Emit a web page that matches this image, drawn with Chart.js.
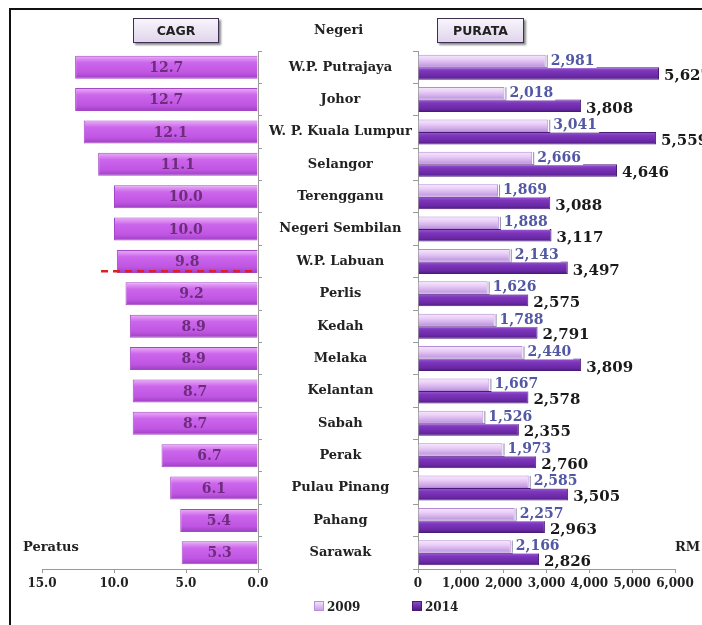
<!DOCTYPE html>
<html>
<head>
<meta charset="utf-8">
<script src="https://cdn.jsdelivr.net/npm/chart.js@4/dist/chart.umd.min.js"></script>
<style>
  html, body { margin: 0; padding: 0; background: #fff; overflow: hidden; }
  #wrap { position: relative; width: 702px; height: 625px; overflow: hidden; }
  #frameTop { position: absolute; left: 9px; top: 8px; width: 693px; height: 2px; background: #111; }
  #frameLeft { position: absolute; left: 9px; top: 8px; width: 2px; height: 617px; background: #111; }
  #left { position: absolute; left: 0; top: 0; }
  #right { position: absolute; left: 400px; top: 0; }
  .tag { position: absolute; height: 25px; display: flex; align-items: center; justify-content: center;
    font: bold 12.5px "DejaVu Sans", sans-serif; color: #222;
    border: 1.5px solid #3e3050; background: linear-gradient(#f8f4fb, #e0d5ec);
    box-shadow: 2px 2px 2px #8a8a8a; box-sizing: border-box; }
  .txt { position: absolute; font: bold 13px "DejaVu Serif", serif; color: #222; white-space: nowrap; }
  .mark { display: inline-block; width: 8px; height: 8px; margin-right: 3px; vertical-align: 0; }
</style>
</head>
<body>
<div id="wrap">
  <div id="frameTop"></div>
  <div id="frameLeft"></div>
  <canvas id="left" width="418" height="625"></canvas>
  <canvas id="right" width="302" height="625"></canvas>
  <div class="tag" style="left:133px; top:18px; width:86px;">CAGR</div>
  <div class="tag" style="left:437px; top:18px; width:87px;">PURATA</div>
  <div class="txt" style="left:314px; top:22px;">Negeri</div>
  <div class="txt" style="left:23px; top:539px;">Peratus</div>
  <div class="txt" style="left:675px; top:539px;">RM</div>
  <div class="txt" style="left:314px; top:600px; font-size:12px;"><span class="mark" style="background:linear-gradient(#f4e0fb,#c9a0e6); border:1px solid #b890d8;"></span>2009</div>
  <div class="txt" style="left:412px; top:600px; font-size:12px;"><span class="mark" style="background:linear-gradient(#8c48c8,#4e1a80); border:1px solid #4a1a78;"></span>2014</div>
</div>
<script>
const states = [
  "W.P. Putrajaya", "Johor", "W. P. Kuala Lumpur", "Selangor", "Terengganu",
  "Negeri Sembilan", "W.P. Labuan", "Perlis", "Kedah", "Melaka",
  "Kelantan", "Sabah", "Perak", "Pulau Pinang", "Pahang", "Sarawak"
]
const cagr = [12.7, 12.7, 12.1, 11.1, 10.0, 10.0, 9.8, 9.2, 8.9, 8.9, 8.7, 8.7, 6.7, 6.1, 5.4, 5.3]
const purata2009 = [2981, 2018, 3041, 2666, 1869, 1888, 2143, 1626, 1788, 2440, 1667, 1526, 1973, 2585, 2257, 2166]
const purata2014 = [5627, 3808, 5559, 4646, 3088, 3117, 3497, 2575, 2791, 3809, 2578, 2355, 2760, 3505, 2963, 2826]
const cagrTicks = [0, 5, 10, 15]
const purataTicks = [0, 1000, 2000, 3000, 4000, 5000, 6000]

const serif = "'DejaVu Serif', serif"
const axisGrey = "#9a9a9a"
const TOP = 51, PLOT_BOTTOM = 569, H = 625

// vertical gradient for one bar, from its band position on the category scale
function bandGradient(ctx, fromFrac, toFrac, stops, fallback) {
  if (ctx.type !== "data") return fallback
  const chart = ctx.chart
  const y = chart.scales.y
  if (!y || y.bottom === undefined) return fallback
  const band = (y.bottom - y.top) / y.ticks.length
  const c = y.getPixelForValue(ctx.dataIndex)
  const y0 = c + band * fromFrac, y1 = c + band * toFrac
  if (!isFinite(y0) || !isFinite(y1) || y0 === y1) return fallback
  const g = chart.ctx.createLinearGradient(0, y0, 0, y1)
  stops.forEach(([p, col]) => g.addColorStop(p, col))
  return g
}

function fixedWidth(w) { return (scale) => { scale.width = w } }
function fixedHeight(h) { return (scale) => { scale.height = h } }

// ---- left: CAGR ----
const cagrLabels = {
  id: "cagrLabels",
  afterDatasetsDraw(chart) {
    const { ctx } = chart
    ctx.save()
    ctx.font = "bold 14px " + serif
    ctx.fillStyle = "#6e2c7c"
    ctx.textAlign = "center"
    ctx.textBaseline = "middle"
    chart.getDatasetMeta(0).data.forEach((bar, i) => {
      ctx.fillText(cagr[i].toFixed(1), (bar.x + bar.base) / 2, bar.y + 1)
    })
    // red dashed marker under W.P. Labuan
    const x = chart.scales.x, y = chart.scales.y
    const band = (y.bottom - y.top) / states.length
    const yy = y.getPixelForValue(states.indexOf("W.P. Labuan")) + band * 0.3
    ctx.strokeStyle = "#e0201c"
    ctx.lineWidth = 2.5
    ctx.setLineDash([7, 5])
    ctx.beginPath()
    ctx.moveTo(x.getPixelForValue(10.9), yy)
    ctx.lineTo(x.getPixelForValue(0.4), yy)
    ctx.stroke()
    ctx.restore()
  }
}

new Chart(document.getElementById("left"), {
  type: "bar",
  data: {
    labels: states,
    datasets: [{
      label: "CAGR",
      data: cagr,
      backgroundColor: (ctx) => bandGradient(ctx, -0.355, 0.355,
        [[0, "#eab0f6"], [0.3, "#cc66ec"], [0.75, "#bf55e2"], [1, "#9c3fc0"]], "#c55ee8"),
      borderColor: "#a548c8",
      borderWidth: 1,
      barPercentage: 0.71,
      categoryPercentage: 1,
    }],
  },
  options: {
    indexAxis: "y",
    responsive: false,
    animation: false,
    layout: { padding: { top: TOP, left: 42, right: 0, bottom: H - PLOT_BOTTOM - 30 } },
    plugins: { legend: { display: false }, tooltip: { enabled: false } },
    scales: {
      x: {
        reverse: true, min: 0, max: 15,
        afterBuildTicks: (s) => { s.ticks = cagrTicks.map((v) => ({ value: v })) },
        afterFit: fixedHeight(30),
        ticks: { color: "#222", font: { family: serif, size: 12, weight: "bold" },
          callback: (v) => Number(v).toFixed(1), maxRotation: 0, autoSkip: false, padding: 4 },
        grid: { drawOnChartArea: false, color: axisGrey, tickLength: 4 },
        border: { color: axisGrey },
      },
      y: {
        position: "right",
        afterFit: fixedWidth(160),
        ticks: { color: "#222", font: { family: serif, size: 13, weight: "bold" },
          crossAlign: "center", padding: 7, autoSkip: false },
        grid: { drawOnChartArea: false, offset: true, color: axisGrey, tickLength: 4 },
        border: { color: axisGrey },
      },
    },
  },
  plugins: [cagrLabels],
})

// ---- right: PURATA ----
const fmt = (v) => v.toLocaleString("en-US")

const purataLabels = {
  id: "purataLabels",
  afterDatasetsDraw(chart) {
    const { ctx } = chart
    ctx.save()
    ctx.textBaseline = "middle"
    ctx.textAlign = "left"
    chart.getDatasetMeta(0).data.forEach((bar, i) => {
      const t = fmt(purata2009[i])
      ctx.font = "bold 14px " + serif
      const w = ctx.measureText(t).width
      ctx.fillStyle = "#fff"
      ctx.fillRect(bar.x + 2, bar.y - 7, w + 5, 14)
      ctx.strokeStyle = "#8a8aa8"
      ctx.lineWidth = 1
      ctx.beginPath()
      ctx.moveTo(bar.x + 1.5, bar.y - 6)
      ctx.lineTo(bar.x + 1.5, bar.y + 6)
      ctx.stroke()
      ctx.fillStyle = "#5258a4"
      ctx.fillText(t, bar.x + 5, bar.y)
    })
    chart.getDatasetMeta(1).data.forEach((bar, i) => {
      ctx.font = "bold 15px " + serif
      ctx.fillStyle = "#1a1a1a"
      ctx.fillText(fmt(purata2014[i]), bar.x + 5, bar.y + 3)
    })
    ctx.restore()
  }
}

new Chart(document.getElementById("right"), {
  type: "bar",
  data: {
    labels: states,
    datasets: [
      {
        label: "2009",
        data: purata2009,
        backgroundColor: (ctx) => bandGradient(ctx, -0.385, 0,
          [[0, "#f8e8fc"], [0.35, "#ead0f8"], [0.7, "#d2aeea"], [1, "#b98fdc"]], "#e2c4f4"),
        borderColor: "#b58cd6",
        borderWidth: 1,
        barPercentage: 1,
        categoryPercentage: 0.77,
      },
      {
        label: "2014",
        data: purata2014,
        backgroundColor: (ctx) => bandGradient(ctx, 0, 0.385,
          [[0, "#9d5cd2"], [0.3, "#7c36bc"], [0.75, "#6a28a4"], [1, "#4c1a80"]], "#7030b0"),
        borderColor: "#4a1a78",
        borderWidth: 1,
        barPercentage: 1,
        categoryPercentage: 0.77,
      },
    ],
  },
  options: {
    indexAxis: "y",
    responsive: false,
    animation: false,
    layout: { padding: { top: TOP, left: 0, right: 27, bottom: H - PLOT_BOTTOM - 30 } },
    plugins: { legend: { display: false }, tooltip: { enabled: false } },
    scales: {
      x: {
        min: 0, max: 6000,
        afterBuildTicks: (s) => { s.ticks = purataTicks.map((v) => ({ value: v })) },
        afterFit: fixedHeight(30),
        ticks: { color: "#222", font: { family: serif, size: 12, weight: "bold" },
          callback: (v) => fmt(Number(v)), maxRotation: 0, autoSkip: false, padding: 4 },
        grid: { drawOnChartArea: false, color: axisGrey, tickLength: 4 },
        border: { color: axisGrey },
      },
      y: {
        position: "left",
        afterFit: fixedWidth(18),
        ticks: { callback: () => "", autoSkip: false },
        grid: { drawOnChartArea: false, offset: true, color: axisGrey, tickLength: 5 },
        border: { color: axisGrey },
      },
    },
  },
  plugins: [purataLabels],
})
</script>
</body>
</html>
